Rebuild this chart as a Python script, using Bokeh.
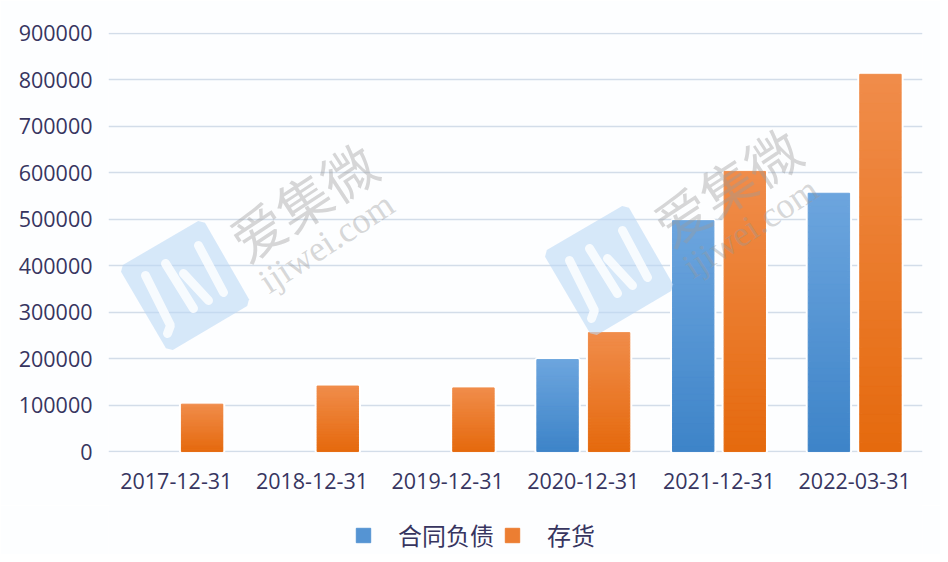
from bokeh.core.properties import value
from bokeh.embed import file_html
from bokeh.layouts import column
from bokeh.models import Legend, LegendItem, Range1d
from bokeh.plotting import figure
from bokeh.resources import INLINE

dates = ["2017-12-31", "2018-12-31", "2019-12-31", "2020-12-31", "2021-12-31", "2022-03-31"]
contract_liab = [None, None, None, 198000, 497000, 556000]
inventory = [102000, 141000, 137000, 256000, 603000, 812000]
y_ticks = [0, 100000, 200000, 300000, 400000, 500000, 600000, 700000, 800000, 900000]
series_names = ["合同负债", "存货"]

text_col = "#37355f"
bg = "#fdfeff"
bar_w = 0.305
offset = 0.19
blue_top, blue_bottom = (108, 165, 222), (62, 132, 200)
orange_top, orange_bottom = (240, 140, 74), (229, 106, 14)


def blend(top, bottom, t):
    rgb = [round(a + (b - a) * t) for a, b in zip(top, bottom)]
    return "#%02x%02x%02x" % tuple(rgb)


def chamfer(pts, r=5):
    # rounded-ish corners for the logo tile
    out = []
    for i, (x, y) in enumerate(pts):
        for ox, oy in (pts[i - 1], pts[(i + 1) % len(pts)]):
            d = ((ox - x) ** 2 + (oy - y) ** 2) ** 0.5
            out.append((x + (ox - x) * r / d, y + (oy - y) * r / d))
    return out


# small margins kept so the grid lines at 0 and 900000 are still drawn
p = figure(width=940, height=505, x_range=(0, len(dates)), y_range=(-2000, 902000),
           output_backend="svg", toolbar_location=None, tools="",
           min_border_left=108, min_border_right=18, min_border_top=32, min_border_bottom=53,
           background_fill_color=bg, border_fill_color=bg, outline_line_color=None)

# pixel ranges for the watermark, same numbers as the screenshot
p.extra_x_ranges = {"px": Range1d(108, 922)}
p.extra_y_ranges = {"px": Range1d(452, 32)}

centers = [i + 0.5 for i in range(len(dates))]
p.xaxis.ticker = centers
p.xaxis.major_label_overrides = dict(zip(centers, dates))
p.xaxis.axis_line_color = None
p.yaxis.axis_line_color = None
p.xaxis.major_tick_line_color = None
p.yaxis.major_tick_line_color = None
p.xaxis.minor_tick_line_color = None
p.yaxis.minor_tick_line_color = None
p.yaxis.ticker = y_ticks
p.yaxis.formatter.use_scientific = False
p.yaxis.major_label_text_font = "Open Sans"
p.xaxis.major_label_text_font = "Open Sans"
p.yaxis.major_label_text_font_size = "21.5px"
p.xaxis.major_label_text_font_size = "21.5px"
p.yaxis.major_label_text_color = text_col
p.xaxis.major_label_text_color = text_col
p.yaxis.major_label_standoff = 10
p.xaxis.major_label_standoff = 14
p.xgrid.visible = False
p.ygrid.ticker = y_ticks
p.ygrid.grid_line_color = "#d3dde9"
p.ygrid.grid_line_width = 1.5


def draw_bars(vals, shift, top_col, bottom_col):
    xs = [c + shift for c, v in zip(centers, vals) if v]
    tops = [v for v in vals if v]
    # white halo breaks the grid lines around each bar
    p.vbar(x=xs, top=tops, width=bar_w, fill_color=blend(top_col, bottom_col, 0.5),
           line_color="white", line_width=5)
    # no gradient fill on vbar, so stack thin slices
    sx, bots, ups, cols = [], [], [], []
    n = 40
    for x, v in zip(xs, tops):
        for i in range(n):
            sx.append(x)
            bots.append(v * i / n)
            ups.append(v * (i + 1) / n)
            cols.append(blend(bottom_col, top_col, i / (n - 1)))
    p.vbar(x=sx, bottom=bots, top=ups, width=bar_w, color=cols)


draw_bars(contract_liab, -offset, blue_top, blue_bottom)
draw_bars(inventory, offset, orange_top, orange_bottom)

# two copies of the ijiwei watermark
tile = chamfer([(118, 267), (202, 218), (251, 303), (168, 352)])
for dx, dy in [(0, 0), (424, -15)]:
    p.patch([x + dx for x, y in tile], [y + dy for x, y in tile], x_range_name="px", y_range_name="px",
            fill_color="#bcd9f5", fill_alpha=0.6, line_color=None)
    p.multi_line([[145 + dx, 170 + dx, 167 + dx], [165 + dx, 193 + dx], [183 + dx, 208 + dx], [198 + dx, 223 + dx]],
                 [[275 + dy, 325 + dy, 333 + dy], [263 + dy, 308 + dy], [273 + dy, 300 + dy], [245 + dy, 292 + dy]],
                 x_range_name="px", y_range_name="px", color="white", alpha=0.8, line_width=9, line_cap="round")
    p.text([234 + dx], [244 + dy], text=["爱集微"], angle=0.58, x_range_name="px", y_range_name="px",
           text_font=value("Noto Sans CJK SC"), text_font_size="54px", text_color="#9a9a9a", text_alpha=0.4,
           text_baseline="alphabetic")
    p.text([262 + dx], [284 + dy], text=["ijiwei.com"], angle=0.58, x_range_name="px", y_range_name="px",
           text_font=value("Liberation Serif"), text_font_size="36px", text_color="#9a9a9a", text_alpha=0.4,
           text_baseline="alphabetic")

# legend gets its own strip below the chart, a legend outside the frame gets clipped
leg = figure(width=940, height=49, x_range=(0, 1), y_range=(0, 1), output_backend="svg", toolbar_location=None,
             tools="", x_axis_location=None, y_axis_location=None, min_border=0, outline_line_color=None,
             background_fill_color=bg, border_fill_color=bg)
leg.grid.visible = False
swatch_blue = leg.vbar(x=[float("nan")], top=[1], width=1, color=blend(blue_top, blue_bottom, 0.5))
swatch_orange = leg.vbar(x=[float("nan")], top=[1], width=1, color=blend(orange_top, orange_bottom, 0.4))
legend = Legend(items=[LegendItem(label=series_names[0], renderers=[swatch_blue]),
                       LegendItem(label=series_names[1], renderers=[swatch_orange])],
                orientation="horizontal", location=(246, 2), background_fill_alpha=0, border_line_color=None,
                label_text_font="Noto Sans CJK SC", label_text_font_size="24px", label_text_color=text_col,
                glyph_width=18, glyph_height=18, label_standoff=26, spacing=9, padding=0, margin=0)
leg.add_layout(legend, "center")

page = column(p, leg, spacing=0)
open("out.html", "w").write(file_html(page, INLINE))
